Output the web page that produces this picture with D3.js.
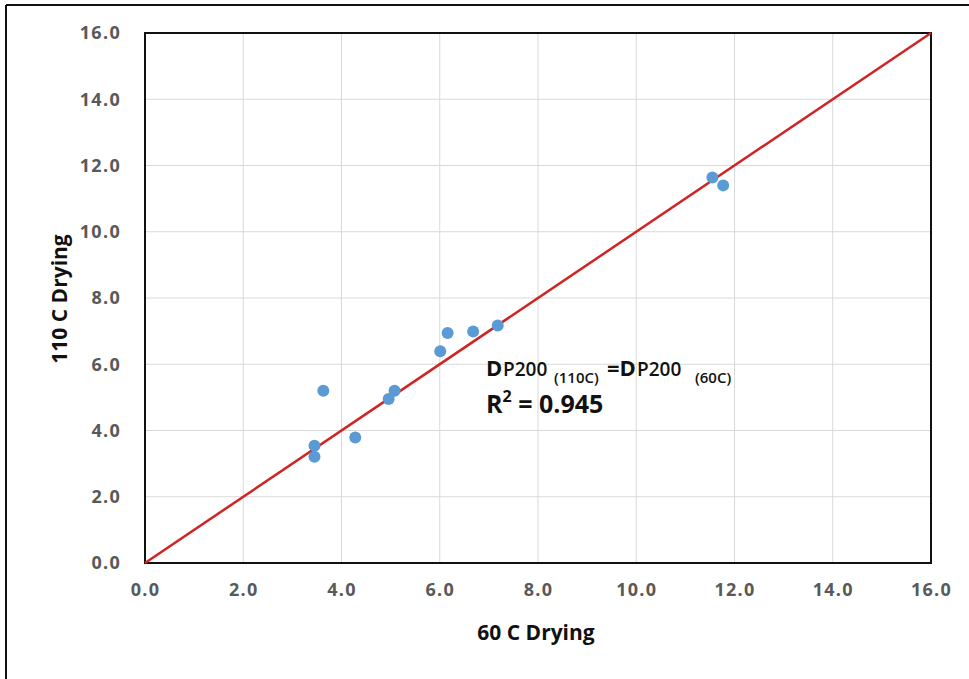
<!DOCTYPE html>
<html>
<head>
<meta charset="utf-8">
<script src="https://cdn.jsdelivr.net/npm/d3@7"></script>
<style>
  body { margin: 0; background: #fff; }
  text { font-family: "Open Sans", "Liberation Sans", sans-serif; }
</style>
</head>
<body>
<script>
// measured values (60 C drying vs 110 C drying)
var dry60  = [3.63, 3.45, 3.45, 4.28, 4.96, 5.08, 6.01, 6.16, 6.68, 7.18, 11.55, 11.77];
var dry110 = [5.20, 3.54, 3.21, 3.79, 4.95, 5.20, 6.39, 6.94, 6.99, 7.17, 11.64, 11.40];
var tickValues = [0, 2, 4, 6, 8, 10, 12, 14, 16];
var lineEnds = [0, 16];

var W = 969, H = 679;
// plot area edges
var pLeft = 145, pRight = 931, pTop = 33, pBottom = 563;

var svg = d3.select("body").append("svg")
    .attr("width", W)
    .attr("height", H);

// outer frame (only left and top edges show in the picture)
svg.append("line").attr("x1", 6).attr("y1", 5).attr("x2", W).attr("y2", 5)
    .attr("stroke", "#111").attr("stroke-width", 2);
svg.append("line").attr("x1", 6).attr("y1", 5).attr("x2", 6).attr("y2", H)
    .attr("stroke", "#111").attr("stroke-width", 2);

var x = d3.scaleLinear().domain([0, 16]).range([pLeft, pRight]);
var y = d3.scaleLinear().domain([0, 16]).range([pBottom, pTop]);

// gridlines
svg.append("g").selectAll("line").data(tickValues.slice(1, -1)).enter().append("line")
    .attr("x1", function(d) { return x(d); }).attr("x2", function(d) { return x(d); })
    .attr("y1", pTop).attr("y2", pBottom)
    .attr("stroke", "#d9d9d9").attr("stroke-width", 1);
svg.append("g").selectAll("line").data(tickValues.slice(1, -1)).enter().append("line")
    .attr("y1", function(d) { return y(d); }).attr("y2", function(d) { return y(d); })
    .attr("x1", pLeft).attr("x2", pRight)
    .attr("stroke", "#d9d9d9").attr("stroke-width", 1);

// axes (labels only, lines drawn by the frame)
var xAxis = svg.append("g").attr("transform", "translate(0," + pBottom + ")")
    .call(d3.axisBottom(x).tickValues(tickValues).tickFormat(d3.format(".1f")).tickSize(0).tickPadding(20));
var yAxis = svg.append("g").attr("transform", "translate(" + pLeft + ",0)")
    .call(d3.axisLeft(y).tickValues(tickValues).tickFormat(d3.format(".1f")).tickSize(0).tickPadding(24));
[xAxis, yAxis].forEach(function(a) {
    a.select(".domain").remove();
    a.selectAll("text")
        .attr("fill", "#595959")
        .style("font-size", "18px")
        .style("font-weight", "bold")
        .style("letter-spacing", "1.3px");
});

// plot frame
svg.append("rect").attr("x", pLeft).attr("y", pTop)
    .attr("width", pRight - pLeft).attr("height", pBottom - pTop)
    .attr("fill", "none").attr("stroke", "#111").attr("stroke-width", 2);

// 1:1 line
svg.append("line")
    .attr("x1", x(lineEnds[0])).attr("y1", y(lineEnds[0]))
    .attr("x2", x(lineEnds[1])).attr("y2", y(lineEnds[1]))
    .attr("stroke", "#d02424").attr("stroke-width", 2.5);

// points
svg.append("g").selectAll("circle").data(dry60).enter().append("circle")
    .attr("cx", function(d) { return x(d); })
    .attr("cy", function(d, i) { return y(dry110[i]); })
    .attr("r", 6)
    .attr("fill", "#5b9bd5");

// axis titles
svg.append("text").attr("x", 536).attr("y", 640)
    .attr("text-anchor", "middle")
    .style("font-size", "21px").style("font-weight", "bold").attr("fill", "#111")
    .text("60 C Drying");
svg.append("text")
    .attr("transform", "translate(67,299) rotate(-90)")
    .attr("text-anchor", "middle")
    .style("font-size", "21px").style("font-weight", "bold").attr("fill", "#111")
    .text("110 C Drying");

// annotation: D P200 (110C) = D P200 (60C)
function annPiece(txt, px, py, size, weight) {
    svg.append("text").attr("x", px).attr("y", py)
        .style("font-size", size + "px").style("font-weight", weight)
        .attr("fill", "#111").text(txt);
}
annPiece("D", 486, 376, 22, "bold");
annPiece("P200", 503, 376, 19, "600");
annPiece("(110C)", 554, 383, 15, "600");
annPiece("=D", 607, 376, 22, "bold");
annPiece("P200", 637, 376, 19, "600");
annPiece("(60C)", 695, 383, 15, "600");

var r2 = svg.append("text").attr("x", 486).attr("y", 413)
    .style("font-weight", "bold").attr("fill", "#111").style("font-size", "25px");
r2.append("tspan").text("R");
r2.append("tspan").style("font-size", "16px").attr("dy", -11).text("2");
r2.append("tspan").attr("dy", 11).text(" = 0.945");
</script>
</body>
</html>
